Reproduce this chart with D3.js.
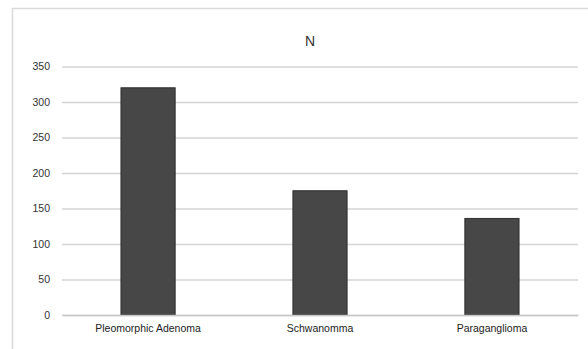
<!DOCTYPE html>
<html><head><meta charset="utf-8">
<script src="https://cdn.jsdelivr.net/npm/d3@7"></script>
<style>body{margin:0;background:#fff}svg{display:block}</style>
</head><body>
<script>
const categories = ["Pleomorphic Adenoma", "Schwanomma", "Paraganglioma"];
const values = [320, 175, 136];
const yTicks = [0, 50, 100, 150, 200, 250, 300, 350];
const title = "N";

const W = 588, H = 349;
const svg = d3.select("body").append("svg").attr("width", W).attr("height", H);
svg.append("rect").attr("x", 12.5).attr("y", 8.5).attr("width", 600).attr("height", 400)
  .attr("fill", "#fff").attr("stroke", "#d9d9d9").attr("stroke-width", 1.5);

const x = d3.scaleBand().domain(categories).range([62, 578]).paddingInner(0.685).paddingOuter(0.343);
const y = d3.scaleLinear().domain([0, 350]).range([315, 66.5]);

svg.append("text").attr("x", 310).attr("y", 46).attr("text-anchor", "middle")
  .attr("font-family", "Liberation Sans, Arial, sans-serif").attr("font-size", 14).attr("fill", "#333").text(title);

const yAxis = svg.append("g").attr("transform", "translate(62,0)")
  .call(d3.axisLeft(y).tickValues(yTicks).tickSize(-(578 - 62)).tickPadding(12));
yAxis.select(".domain").remove();
yAxis.selectAll(".tick line").attr("stroke", "#d4d4d4").attr("stroke-width", 1.5);
yAxis.selectAll(".tick text").attr("font-family", "Liberation Sans, Arial, sans-serif")
  .attr("font-size", 10.5).attr("fill", "#333");

svg.selectAll(".bar").data(values).enter().append("rect").attr("class", "bar")
  .attr("x", (d, i) => x(categories[i])).attr("width", x.bandwidth())
  .attr("y", d => y(d)).attr("height", d => y(0) - y(d))
  .attr("fill", "#474747").attr("stroke", "#2e2e2e").attr("stroke-width", 1);

const xAxis = svg.append("g").attr("transform", "translate(0,315)")
  .call(d3.axisBottom(x).tickSize(0).tickPadding(10));
xAxis.select(".domain").attr("stroke", "#c8c8c8").attr("stroke-width", 1.5);
xAxis.selectAll(".tick text").attr("font-family", "Liberation Sans, Arial, sans-serif")
  .attr("font-size", 10.5).attr("fill", "#222");
</script>
</body></html>
